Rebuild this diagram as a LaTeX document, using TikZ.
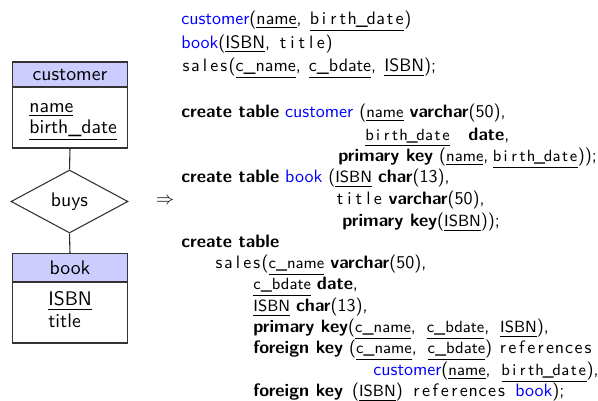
\documentclass[tikz,border=0pt]{standalone}
\usetikzlibrary{shapes.geometric}
\def\monoloop#1{\ifx\relax#1\else\makebox[0.525em]{#1}\expandafter\monoloop\fi}
\newcommand\mono[1]{\monoloop#1\relax}
\newcommand\attr[1]{\underline{#1}}
\newcommand\sattr[1]{{\small\underline{#1}}}
\newcommand\tbl[1]{\textcolor{blue}{#1}}
\newcommand\kw[1]{\textbf{#1}}
\newcommand\gap{\hspace{6pt}}
\newcommand\sgap{\hspace{4.5pt}}
\tikzset{
  sql/.style={anchor=base west, inner sep=0pt, font=\sffamily},
  lbl/.style={anchor=base west, inner sep=0pt, font=\sffamily\fontsize{10.95}{13}\selectfont},
  ent/.style={draw=black!80, line width=0.6pt, minimum width=64.4pt, inner sep=0pt,
    font=\sffamily\fontsize{10.95}{13}\selectfont},
  enthead/.style={ent, fill=blue!20},
  rel/.style={diamond, draw=black!80, line width=0.6pt, minimum width=65pt, minimum height=35pt,
    aspect=1.86, inner sep=0pt, font=\sffamily\fontsize{10.95}{13}\selectfont},
  conn/.style={draw=black!85, line width=0.6pt}
}
\begin{document}
\begin{tikzpicture}[x=0.5556pt, y=-0.5556pt]
\useasboundingbox (0,0) rectangle (598,401);
% left ER diagram
\node[enthead, minimum height=13.9pt] (custh) at (70,74.5) {customer};
\node[ent, minimum height=33.9pt] (custb) at (70,117.5) {};
\node[lbl] (cname) at (29,113) {\attr{name}};
\node[lbl] (cbirth) at (29,134) {\attr{birth\_date}};
\node[rel] (buys) at (69.5,201.5) {buys};
\node[enthead, minimum height=15.6pt] (bookh) at (70,268) {book};
\node[ent, minimum height=33.9pt] (bookb) at (70,312.5) {};
\node[lbl] (bisbn) at (48,306) {\attr{ISBN}};
\node[lbl] (btitle) at (48,328) {title};
\draw[conn] (custb.south) -- (buys.north);
\draw[conn] (buys.south) -- (bookh.north);
\node[inner sep=0pt] (arr) at (165,201) {$\Rightarrow$};
% schema
\node[sql] (l1) at (181,25) {\tbl{customer}(\attr{name},\sgap\attr{\mono{birth\_date}})};
\node[sql] (l2) at (181,48.5) {\tbl{book}(\attr{ISBN},\sgap\mono{title})};
\node[sql] (l3) at (181,72) {\mono{sales}(\attr{c\_name},\sgap\attr{c\_bdate},\sgap\attr{ISBN});};
% SQL
\node[sql] (l5) at (181,118) {\kw{create table} \tbl{customer} (\sattr{name} \kw{varchar}(50),};
\node[sql] (l6) at (365,140.5) {\sattr{\mono{birth\_date}}\hspace{10pt}\kw{date},};
\node[sql] (l7) at (338,162) {\kw{primary key} (\sattr{name},\hspace{2.5pt}\sattr{\mono{birth\_date}}));};
\node[sql] (l8) at (181,183) {\kw{create table} \tbl{book} (\sattr{ISBN} \kw{char}(13),};
\node[sql] (l9) at (335,205) {\mono{title} \kw{varchar}(50),};
\node[sql] (l10) at (342,227) {\kw{primary key}(\sattr{ISBN}));};
\node[sql] (l11) at (181,248) {\kw{create table}};
\node[sql] (l12) at (214,269) {\mono{sales}(\sattr{c\_name} \kw{varchar}(50),};
\node[sql] (l13) at (253,290) {\sattr{c\_bdate} \kw{date},};
\node[sql] (l14) at (253,312) {\sattr{ISBN} \kw{char}(13),};
\node[sql] (l15) at (253,333) {\kw{primary key}(\sattr{c\_name},\gap\sattr{c\_bdate},\gap\sattr{ISBN}),};
\node[sql] (l16) at (253,354) {\kw{foreign key} (\sattr{c\_name},\gap\sattr{c\_bdate}) \mono{references}};
\node[sql] (l17) at (373,376) {\tbl{customer}(\sattr{name},\gap\sattr{\mono{birth\_date}}),};
\node[sql] (l18) at (253,397) {\kw{foreign key}\hspace{5pt}(\sattr{ISBN})\hspace{5pt}\mono{references}\hspace{5pt}\tbl{book});};
\end{tikzpicture}
\end{document}
